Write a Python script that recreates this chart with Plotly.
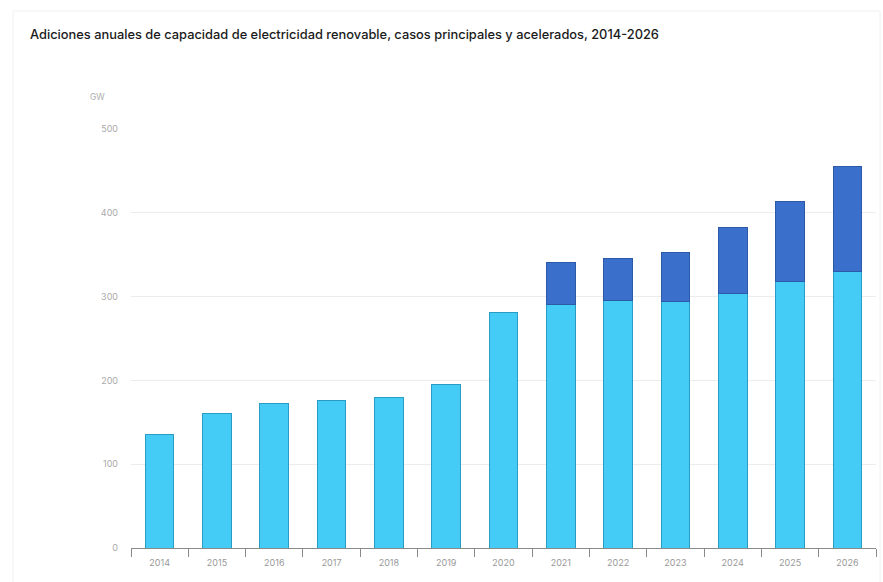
import plotly.graph_objects as go

years = ["2014", "2015", "2016", "2017", "2018", "2019", "2020",
         "2021", "2022", "2023", "2024", "2025", "2026"]
# Main case additions (GW)
main_case = [135, 161, 172, 176, 180, 195, 281, 290, 295, 294, 304, 318, 330]
# Extra additions in the accelerated case (GW), forecast years only
accelerated_extra = [None, None, None, None, None, None, None, 51, 51, 59, 79, 95, 125]

fig = go.Figure()
fig.add_trace(go.Bar(
    x=years, y=main_case, name="Caso principal",
    marker=dict(color="#45CCF6", line=dict(color="#2A9BC2", width=1)),
))
fig.add_trace(go.Bar(
    x=years, y=accelerated_extra, name="Caso acelerado",
    marker=dict(color="#3A70CB", line=dict(color="#2C5AA6", width=1)),
))

fig.update_layout(
    barmode="stack",
    bargap=0.5,
    width=883, height=582,
    margin=dict(l=131, r=7, t=129, b=34),
    paper_bgcolor="white", plot_bgcolor="white",
    showlegend=False,
    font=dict(family="Inter, Open Sans, sans-serif", color="#999999", size=9),
    title=dict(
        text="Adiciones anuales de capacidad de electricidad renovable, casos principales y acelerados, 2014-2026",
        x=30 / 883, xanchor="left", xref="container",
        y=1 - 35 / 582, yanchor="middle", yref="container",
        font=dict(family="Inter, Open Sans, sans-serif", size=12.85, color="#1a1a1a", weight=500),
    ),
    xaxis=dict(
        showgrid=False, showline=True, linecolor="#8a8a8a", linewidth=1,
        ticks="outside", tickson="boundaries", ticklen=8, tickcolor="#8a8a8a",
        ticklabelstandoff=6,
        tickfont=dict(size=9, color="#999999"),
    ),
    yaxis=dict(
        range=[0, 500], dtick=100, showgrid=True, gridcolor="#ececec", gridwidth=1,
        zeroline=False, showline=False, ticks="", ticklabelstandoff=12,
        tickfont=dict(size=9, color="#aaaaaa"),
    ),
    annotations=[dict(
        text="GW", xref="paper", yref="paper", x=-43 / 745, y=1 + 32 / 419,
        xanchor="left", yanchor="middle", showarrow=False,
        font=dict(size=8.5, color="#aaaaaa"),
    )],
    shapes=[dict(
        type="rect", xref="paper", yref="paper",
        x0=-118 / 745, x1=1 + 4 / 745, y0=-40 / 419, y1=1 + 118 / 419,
        line=dict(color="#f0f0f0", width=1), layer="below",
    )],
)

fig.write_html("out.html")
